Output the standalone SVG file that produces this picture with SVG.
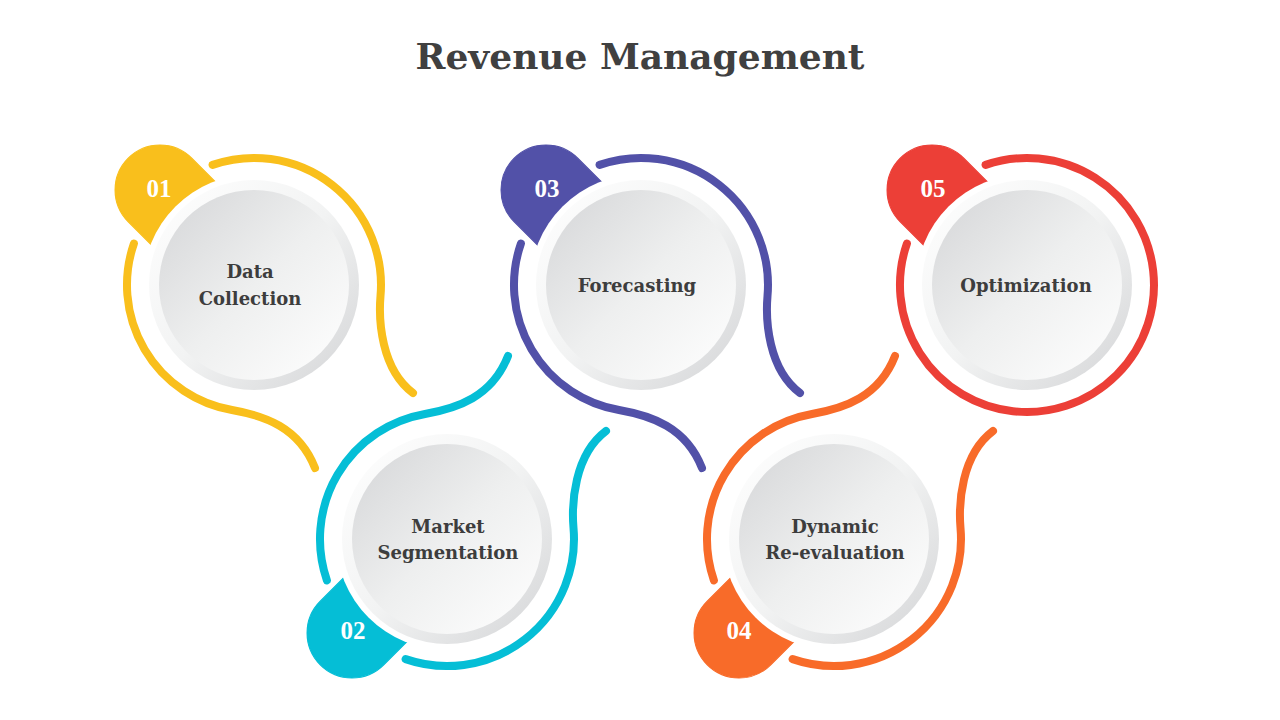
<svg xmlns="http://www.w3.org/2000/svg" width="1280" height="720" viewBox="0 0 1280 720">
  <defs>
    <linearGradient id="ringGrad" x1="0" y1="0" x2="1" y2="1">
      <stop offset="0" stop-color="#ffffff"/>
      <stop offset="0.5" stop-color="#f2f3f3"/>
      <stop offset="1" stop-color="#d3d4d6"/>
    </linearGradient>
    <linearGradient id="innerGrad" x1="0" y1="0" x2="1" y2="1">
      <stop offset="0" stop-color="#d4d5d7"/>
      <stop offset="0.5" stop-color="#eeefef"/>
      <stop offset="1" stop-color="#ffffff"/>
    </linearGradient>
    <style>
      .halo { fill: #ffffff; }
      .ring { fill: url(#ringGrad); }
      .inner { fill: url(#innerGrad); }
      .curve { fill: none; stroke-width: 8; stroke-linecap: round; }
      .title { font-family: "DejaVu Serif", "Liberation Serif", serif; font-weight: bold; font-size: 36px; fill: #404040; text-anchor: middle; }
      .label { font-family: "DejaVu Serif", "Liberation Serif", serif; font-weight: bold; font-size: 18px; fill: #3d3d3d; text-anchor: middle; }
      .num { font-family: "Liberation Serif", "DejaVu Serif", serif; font-weight: bold; font-size: 25px; fill: #ffffff; text-anchor: middle; }
      .yellow { fill: #F9BF1C; stroke: #F9BF1C; }
      .cyan { fill: #05BED6; stroke: #05BED6; }
      .purple { fill: #5251A8; stroke: #5251A8; }
      .orange { fill: #F86B29; stroke: #F86B29; }
      .red { fill: #EC3F37; stroke: #EC3F37; }
      .curve.yellow, .curve.cyan, .curve.purple, .curve.orange, .curve.red { fill: none; }
    </style>
    <path id="badgeShape" d="M0,-45 H95 V45 H0 A45,45 0 0 1 0,-45 Z"/>
    <path id="topPiece" d="M-41.4,-120.1 A127,127 0 0 1 126.5,11 C124.5,35 127,84 159,108"/>
    <path id="sidePiece" d="M-120.1,-41.4 A127,127 0 0 0 -22,125 C10,130.6 45,142 61,183"/>
  </defs>

  <rect width="1280" height="720" fill="#ffffff"/>

  <text class="title" x="640" y="69">Revenue Management</text>

  <g id="connectors">
    <g transform="translate(254,285)">
      <use href="#topPiece" class="curve yellow"/>
      <use href="#sidePiece" class="curve yellow"/>
    </g>
    <g transform="translate(447,539) scale(1,-1)">
      <use href="#topPiece" class="curve cyan"/>
      <use href="#sidePiece" class="curve cyan"/>
    </g>
    <g transform="translate(641,285)">
      <use href="#topPiece" class="curve purple"/>
      <use href="#sidePiece" class="curve purple"/>
    </g>
    <g transform="translate(834,539) scale(1,-1)">
      <use href="#topPiece" class="curve orange"/>
      <use href="#sidePiece" class="curve orange"/>
    </g>
    <g transform="translate(1027,285)">
      <path class="curve red" d="M-41.4,-120.1 A127,127 0 1 1 -120.1,-41.4"/>
    </g>
  </g>

  <g id="node-1">
    <use href="#badgeShape" class="yellow" transform="translate(160,190) rotate(45)"/>
    <circle class="halo" cx="254" cy="285" r="111"/>
    <circle class="ring" cx="254" cy="285" r="105"/>
    <circle class="inner" cx="254" cy="285" r="95"/>
    <text class="num" x="159" y="197">01</text>
    <text class="label" x="250" y="278">Data</text>
    <text class="label" x="250" y="305">Collection</text>
  </g>

  <g id="node-2">
    <use href="#badgeShape" class="cyan" transform="translate(352,633) rotate(-45)"/>
    <circle class="halo" cx="447" cy="539" r="111"/>
    <circle class="ring" cx="447" cy="539" r="105"/>
    <circle class="inner" cx="447" cy="539" r="95"/>
    <text class="num" x="353" y="639">02</text>
    <text class="label" x="448" y="533">Market</text>
    <text class="label" x="448" y="559">Segmentation</text>
  </g>

  <g id="node-3">
    <use href="#badgeShape" class="purple" transform="translate(546,190) rotate(45)"/>
    <circle class="halo" cx="641" cy="285" r="111"/>
    <circle class="ring" cx="641" cy="285" r="105"/>
    <circle class="inner" cx="641" cy="285" r="95"/>
    <text class="num" x="547" y="197">03</text>
    <text class="label" x="637" y="292">Forecasting</text>
  </g>

  <g id="node-4">
    <use href="#badgeShape" class="orange" transform="translate(739,633) rotate(-45)"/>
    <circle class="halo" cx="834" cy="539" r="111"/>
    <circle class="ring" cx="834" cy="539" r="105"/>
    <circle class="inner" cx="834" cy="539" r="95"/>
    <text class="num" x="739" y="639">04</text>
    <text class="label" x="835" y="533">Dynamic</text>
    <text class="label" x="835" y="559">Re-evaluation</text>
  </g>

  <g id="node-5">
    <use href="#badgeShape" class="red" transform="translate(932,190) rotate(45)"/>
    <circle class="halo" cx="1027" cy="285" r="111"/>
    <circle class="ring" cx="1027" cy="285" r="105"/>
    <circle class="inner" cx="1027" cy="285" r="95"/>
    <text class="num" x="933" y="197">05</text>
    <text class="label" x="1026" y="292">Optimization</text>
  </g>
</svg>
